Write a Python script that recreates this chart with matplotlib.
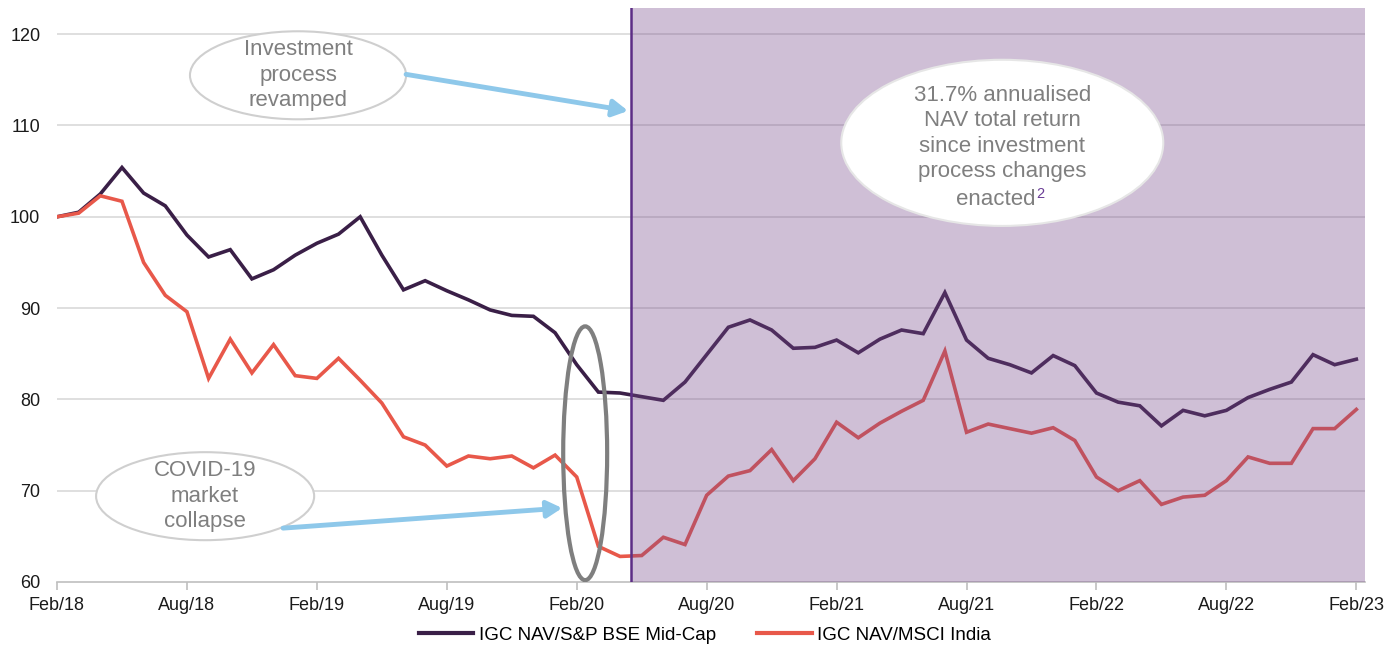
import matplotlib
matplotlib.use("Agg")
import matplotlib.pyplot as plt
from matplotlib.patches import Ellipse, Rectangle
import numpy as np

# Monthly index values, Feb/18 .. Feb/23 (rebased to 100)
mid_cap = [100.0, 100.5, 102.5, 105.4, 102.6, 101.2, 98.0, 95.6, 96.4, 93.2,
           94.2, 95.8, 97.1, 98.1, 100.0, 95.8, 92.0, 93.0, 91.9, 90.9,
           89.8, 89.2, 89.1, 87.3, 83.8, 80.8, 80.7, 80.3, 79.9, 81.9,
           84.9, 87.9, 88.7, 87.6, 85.6, 85.7, 86.5, 85.1, 86.6, 87.6,
           87.2, 91.7, 86.5, 84.5, 83.8, 82.9, 84.8, 83.7, 80.7, 79.7,
           79.3, 77.1, 78.8, 78.2, 78.8, 80.2, 81.1, 81.9, 84.9, 83.8, 84.4]

msci_india = [100.0, 100.4, 102.3, 101.7, 95.0, 91.4, 89.6, 82.3, 86.6, 82.9,
              86.0, 82.6, 82.3, 84.5, 82.1, 79.6, 75.9, 75.0, 72.7, 73.8,
              73.5, 73.8, 72.5, 73.9, 71.5, 63.9, 62.8, 62.9, 64.9, 64.1,
              69.5, 71.6, 72.2, 74.5, 71.1, 73.5, 77.5, 75.8, 77.4, 78.7,
              79.9, 85.3, 76.4, 77.3, 76.8, 76.3, 76.9, 75.5, 71.5, 70.0,
              71.1, 68.5, 69.3, 69.5, 71.1, 73.7, 73.0, 73.0, 76.8, 76.8, 78.9]

series_names = ["IGC NAV/S&P BSE Mid-Cap", "IGC NAV/MSCI India"]
tick_labels = ["Feb/18", "Aug/18", "Feb/19", "Aug/19", "Feb/20", "Aug/20",
               "Feb/21", "Aug/21", "Feb/22", "Aug/22", "Feb/23"]
y_ticks = [60, 70, 80, 90, 100, 110, 120]
process_change = 26.5   # months after Feb/18 when the investment process changed

DARK = "#3a1f47"
RED = "#e8584a"
SHADE = "#76488a"
GRID = "#d9d9d9"
NOTE = "#7f7f7f"
ARROW = "#8ec8ea"
FONT = "Liberation Sans"

plt.rcParams["font.family"] = [FONT, "DejaVu Sans"]

fig = plt.figure(figsize=(14, 6.46), dpi=100)
ax = fig.add_axes([57 / 1400, 64 / 646, (1365 - 57) / 1400, (582 - 8) / 646])

x = np.arange(len(mid_cap))
ax.plot(x, mid_cap, color=DARK, lw=2.6, label=series_names[0], zorder=3,
        solid_joinstyle="miter")
ax.plot(x, msci_india, color=RED, lw=2.6, label=series_names[1], zorder=3,
        solid_joinstyle="miter")

ax.set_xlim(0, 60.4)
ax.set_ylim(60, 60 + (582 - 8) / 9.13)

# shaded period after the process change, drawn over the lines
ax.add_patch(Rectangle((process_change, 60), 60.4 - process_change, 80,
                       facecolor=SHADE, alpha=0.35, lw=0, zorder=4))
ax.axvline(process_change, color="#5c2d85", lw=1.8, zorder=5)

# grid and axes styling
for v in y_ticks[1:]:
    ax.axhline(v, color=GRID, lw=1.2, zorder=1)
for s in ["left", "right", "top"]:
    ax.spines[s].set_visible(False)
ax.spines["bottom"].set_color("#bfbfbf")
ax.spines["bottom"].set_linewidth(1.2)
ax.set_xticks(np.arange(0, 61, 6))
ax.set_xticklabels(tick_labels, fontsize=13, color="#1a1a1a")
ax.set_yticks(y_ticks)
ax.set_yticklabels([str(v) for v in y_ticks], fontsize=13, color="#1a1a1a")
ax.tick_params(axis="x", length=6, width=1.2, color="#bfbfbf", pad=5)
ax.tick_params(axis="y", length=0, pad=12)

# callout bubbles
def bubble(cx, cy, w, h, text, edge="#cfcfcf", lw=1.5, face="white"):
    ax.add_patch(Ellipse((cx, cy), w, h, facecolor=face, edgecolor=edge,
                         lw=lw, zorder=6))
    if text:
        ax.text(cx, cy, text, ha="center", va="center", fontsize=16,
                color=NOTE, linespacing=1.28, zorder=7)

bubble(11.13, 115.5, 9.98, 9.64, "Investment\nprocess\nrevamped")
bubble(6.84, 69.4, 10.07, 9.64, "COVID-19\nmarket\ncollapse")
bubble(24.39, 74.1, 2.03, 27.8, None, edge="#7f7f7f", lw=3.0, face="none")
bubble(43.65, 108.1, 14.87, 18.2, None, edge="#e6e6e6")

ax.text(43.65, 109.15, "31.7% annualised\nNAV total return\nsince investment\nprocess changes",
        ha="center", va="center", fontsize=16, color=NOTE, linespacing=1.28, zorder=7)
enacted = ax.text(43.37, 101.9, "enacted", ha="center", va="center", fontsize=16,
                  color=NOTE, zorder=7)
ax.annotate("2", xy=(1.0, 0.86), xycoords=enacted, xytext=(0.5, 3.2),
            textcoords="offset points", fontsize=10.5, color="#6a3d96",
            ha="left", va="top", zorder=7)

arrow_style = dict(arrowstyle="-|>,head_length=0.9,head_width=0.5",
                   color=ARROW, lw=3.5, shrinkA=0, shrinkB=0)
ax.annotate("", xy=(26.37, 111.6), xytext=(16.12, 115.6),
            arrowprops=arrow_style, zorder=6)
ax.annotate("", xy=(23.33, 68.1), xytext=(10.44, 65.9),
            arrowprops=arrow_style, zorder=6)

leg = fig.legend(loc="center", bbox_to_anchor=(705 / 1400, 1 - 635 / 646),
                 ncol=2, frameon=False, fontsize=13.5, handlelength=2.9,
                 handletextpad=0.3, columnspacing=2.2)
for line in leg.get_lines():
    line.set_linewidth(3)

fig.savefig("out.png", dpi=100)
